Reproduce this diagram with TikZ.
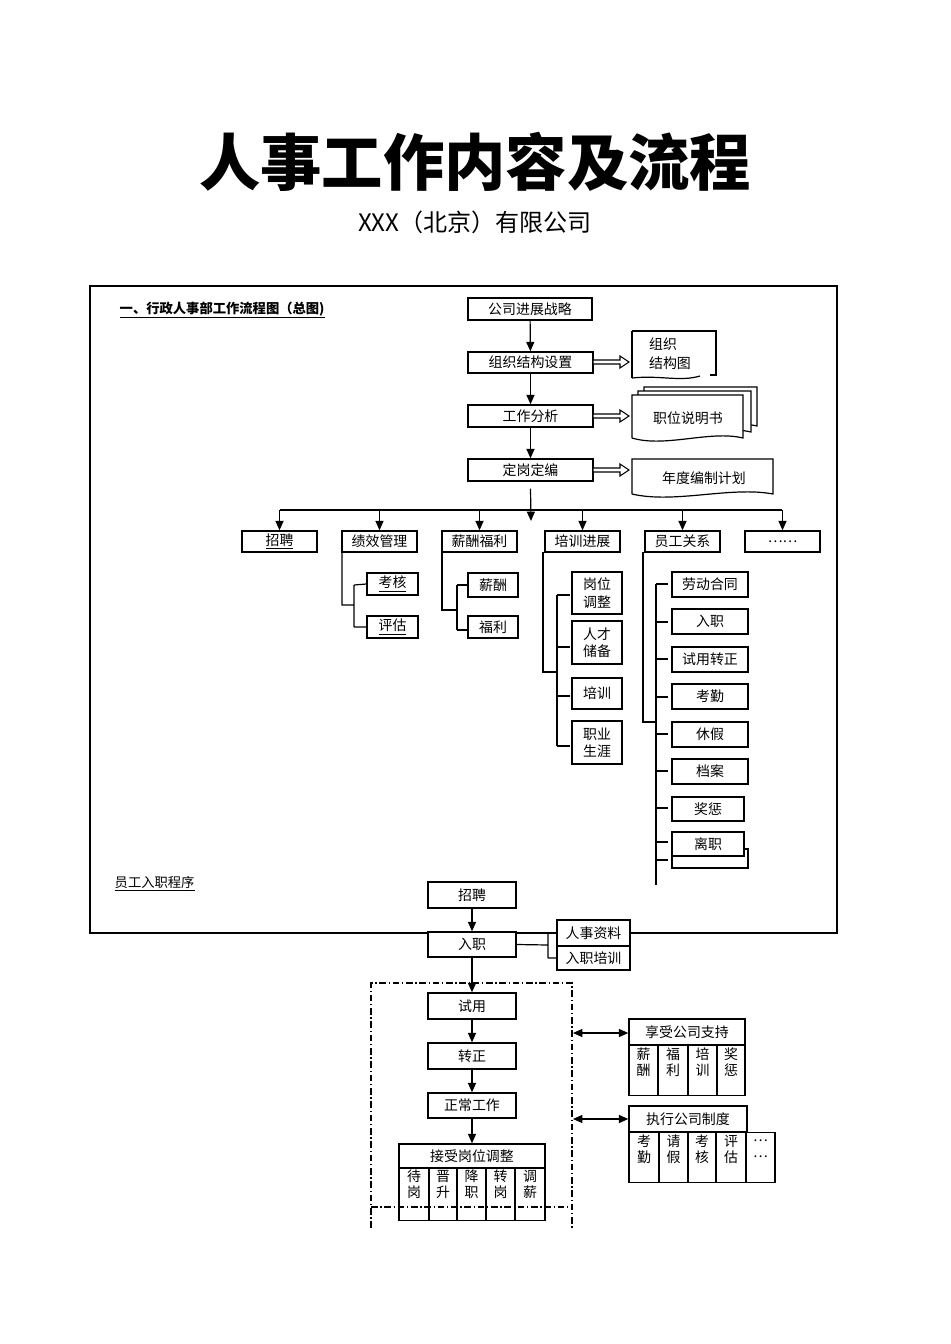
\documentclass[tikz,border=0pt]{standalone}
\usepackage{fontspec}
\setmainfont{Liberation Serif}
\newfontfamily\cjk{Noto Sans CJK SC}[Scale=0.95]
\newfontfamily\cjkb{Noto Sans CJK SC}[BoldFont={* Black}]
\usetikzlibrary{arrows.meta,calc}
\tikzset{
 bx/.style={draw,line width=1.1pt,fill=white,inner sep=0pt,font=\cjk\fontsize{11}{13}\selectfont,align=center},
 ln/.style={line width=0.9pt},
 ar/.style={line width=0.9pt,-{Triangle[length=7pt,width=6pt]}},
 dar/.style={line width=0.9pt,{Triangle[length=7pt,width=6pt]}-{Triangle[length=7pt,width=6pt]}},
 dd/.style={line width=0.8pt,dash pattern=on 5pt off 2pt on 1pt off 2pt}
}
\newcommand{\bx}[6]{\node[bx,minimum width={(#4-#2)*0.75pt},minimum height={(#5-#3)*0.75pt}] (#1) at ({(#2+#4)/2},{(#3+#5)/2}) {#6};}
\newcommand{\hol}[3]{\draw[line width=0.8pt,fill=white] (#1,#3-2)--(#2-9,#3-2)--(#2-9,#3-6)--(#2,#3)--(#2-9,#3+6)--(#2-9,#3+2)--(#1,#3+2)--cycle;}
\newcommand{\docb}[4]{\draw[line width=0.9pt,fill=white] (#1,#4-6)--(#1,#2)--(#3,#2)--(#3,#4-6) .. controls ({#3-(#3-#1)*0.3},#4-14) and ({#1+(#3-#1)*0.3},#4+4) .. (#1,#4-6);}
\begin{document}
\begin{tikzpicture}[x=0.75pt,y=-0.75pt]
\useasboundingbox (0,0) rectangle (950,1344);
\node[font=\cjkb\bfseries\fontsize{46}{50}\selectfont] (title) at (475,162) {人事工作内容及流程};
\node[font=\cjk\fontsize{19}{22}\selectfont] (sub) at (475,222) {XXX（北京）有限公司};
\draw[line width=0.9pt] (90,286) rectangle (837,933);
\node[anchor=west,font=\cjk\bfseries\fontsize{10.5}{12}\selectfont] (sec) at (115,310) {\underline{一、行政人事部工作流程图（总图)}};
\node[anchor=west,font=\cjk\fontsize{10.5}{12}\selectfont] (sec2) at (110,884) {\underline{员工入职程序}};
% top chain
\bx{a}{468}{298}{592}{320}{公司进展战略}
\bx{b}{468}{352}{593}{373}{组织结构设置}
\bx{c}{468}{405}{593}{427}{工作分析}
\bx{d}{468}{459}{593}{481}{定岗定编}
\draw[ar] (a) -- (b); \draw[ar] (b) -- (c); \draw[ar] (c) -- (d);
\hol{593}{629}{362}\hol{593}{629}{416}\hol{593}{629}{470}
\draw[line width=0.9pt] (632,331)--(632,378) (632,331)--(716,331)--(716,375)--(710,375);
\draw[line width=0.9pt] (632,378) .. controls (660,375) and (680,382) .. (700,376);
\node[font=\cjk\fontsize{11}{14}\selectfont,align=left] (org) at (670,354) {组织\\结构图};
\docb{644}{387}{757}{432}
\docb{638}{391}{751}{438}
\docb{632}{395}{743}{444}
\node[font=\cjk\fontsize{11}{13}\selectfont] (zw) at (688,418) {职位说明书};
\docb{632}{459}{773}{500}
\node[font=\cjk\fontsize{11}{13}\selectfont] (nd) at (704,478) {年度编制计划};
% branches
\bx{z1}{242}{531}{317}{552}{\underline{招聘}}
\bx{z2}{342}{531}{417}{552}{绩效管理}
\bx{z3}{442}{531}{517}{552}{薪酬福利}
\bx{z4}{545}{531}{620}{552}{培训进展}
\bx{z5}{645}{531}{720}{552}{员工关系}
\bx{z6}{745}{531}{820}{552}{……}
\coordinate (hub) at (531,510);
\draw[ar] (d.south) ++(0,7) -- (531,521);
\draw[ln] (280,510)--(782,510);
\foreach \n in {z1,z2,z3,z4,z5,z6} \draw[ar] (\n.north |- hub) -- (\n.north);
% 绩效
\bx{k1}{367}{573}{418}{595}{\underline{考核}}
\bx{k2}{367}{616}{418}{638}{\underline{评估}}
\draw[ln] (342,552)--(342,605)--(354,605) (354,585)--(354,627) (354,585)--(k1.west) (354,627)--(k2.west);
% 薪酬
\bx{x1}{468}{573}{518}{597}{薪酬}
\bx{x2}{468}{616}{518}{638}{福利}
\draw[ln] (442,552)--(442,610)--(457,610) (457,585)--(457,630) (457,585)--(468,585) (457,630)--(468,630);
% 培训
\bx{p1}{572}{572}{622}{614}{岗位\\调整}
\bx{p2}{572}{621}{622}{664}{人才\\储备}
\bx{p3}{572}{678}{622}{709}{培训}
\bx{p4}{572}{721}{622}{764}{职业\\生涯}
\draw[ln] (543,552)--(543,672)--(557,672) (557,595)--(557,746);
\foreach \yy in {595,647,696,746} \draw[ln] (557,\yy)--(570,\yy);
% 员工关系
\bx{r1}{672}{572}{748}{597}{劳动合同}
\bx{r2}{672}{609}{748}{634}{入职}
\bx{r3}{672}{647}{748}{672}{试用转正}
\bx{r4}{672}{684}{748}{709}{考勤}
\bx{r5}{672}{722}{748}{747}{休假}
\bx{r6}{672}{759}{748}{784}{档案}
\bx{r7}{672}{797}{744}{821}{奖惩}
\bx{r9}{672}{849}{748}{868}{}
\bx{r8}{672}{832}{744}{856}{离职}
\draw[ln] (643,552)--(643,722)--(656,722) (656,584)--(656,885);
\foreach \yy in {584,622,659,697,734,771,808,842,860} \draw[ln] (656,\yy)--(668,\yy);
% bottom process
\bx{e1}{428}{882}{516}{908}{招聘}
\bx{e2}{428}{932}{516}{957}{入职}
\bx{e3}{428}{993}{516}{1019}{试用}
\bx{e4}{428}{1043}{516}{1069}{转正}
\bx{e5}{428}{1093}{516}{1118}{正常工作}
\bx{h1}{557}{920}{630}{946}{人事资料}
\bx{h2}{557}{946}{630}{970}{入职培训}
\draw[ln] (e2.east)--(548,945) (548,933)--(548,958) (548,933)--(557,933) (548,958)--(557,958);
\draw[ar] (e1)--(e2); \draw[ar] (e2)--(e3); \draw[ar] (e3)--(e4); \draw[ar] (e4)--(e5);
% adjust box
\bx{j0}{399}{1144}{545}{1168}{接受岗位调整}
\foreach \xa/\xb/\t [count=\i] in {399/429/待\\岗,429/457/晋\\升,457/486/降\\职,486/515/转\\岗,515/545/调\\薪}
 \node[draw,line width=1.1pt,minimum width={(\xb-\xa)*0.75pt},minimum height={52*0.75pt},inner sep=0pt,anchor=north,font=\cjk\fontsize{11}{12}\selectfont,align=center,text depth=16pt] (j\i) at ({(\xa+\xb)/2},1168) {\t};
\draw[ar] (e5)--(j0);
% dashed region
\draw[dd] (371,1228)--(371,983)--(572,983)--(572,1228);
\draw[dd] (371,1207)--(572,1207);
% support boxes
\bx{s0}{629}{1019}{745}{1045}{享受公司支持}
\foreach \xa/\xb/\t [count=\i] in {629/658/薪\\酬,658/688/福\\利,688/717/培\\训,717/745/奖\\惩}
 \node[draw,line width=1.1pt,minimum width={(\xb-\xa)*0.75pt},minimum height={50*0.75pt},inner sep=0pt,anchor=north,font=\cjk\fontsize{11}{12}\selectfont,align=center,text depth=14pt] (s\i) at ({(\xa+\xb)/2},1045) {\t};
\bx{t0}{629}{1106}{747}{1132}{执行公司制度}
\foreach \xa/\xb/\t [count=\i] in {629/659/考\\勤,659/688/请\\假,688/716/考\\核,716/746/评\\估,746/775/…\\…}
 \node[draw,line width=1.1pt,minimum width={(\xb-\xa)*0.75pt},minimum height={50*0.75pt},inner sep=0pt,anchor=north,font=\cjk\fontsize{11}{12}\selectfont,align=center,text depth=14pt] (t\i) at ({(\xa+\xb)/2},1132) {\t};
\coordinate (dr1) at (573,1033); \coordinate (dr2) at (573,1119);
\draw[dar] (dr1)--(s0.west |- dr1);
\draw[dar] (dr2)--(t0.west |- dr2);
\end{tikzpicture}
\end{document}
